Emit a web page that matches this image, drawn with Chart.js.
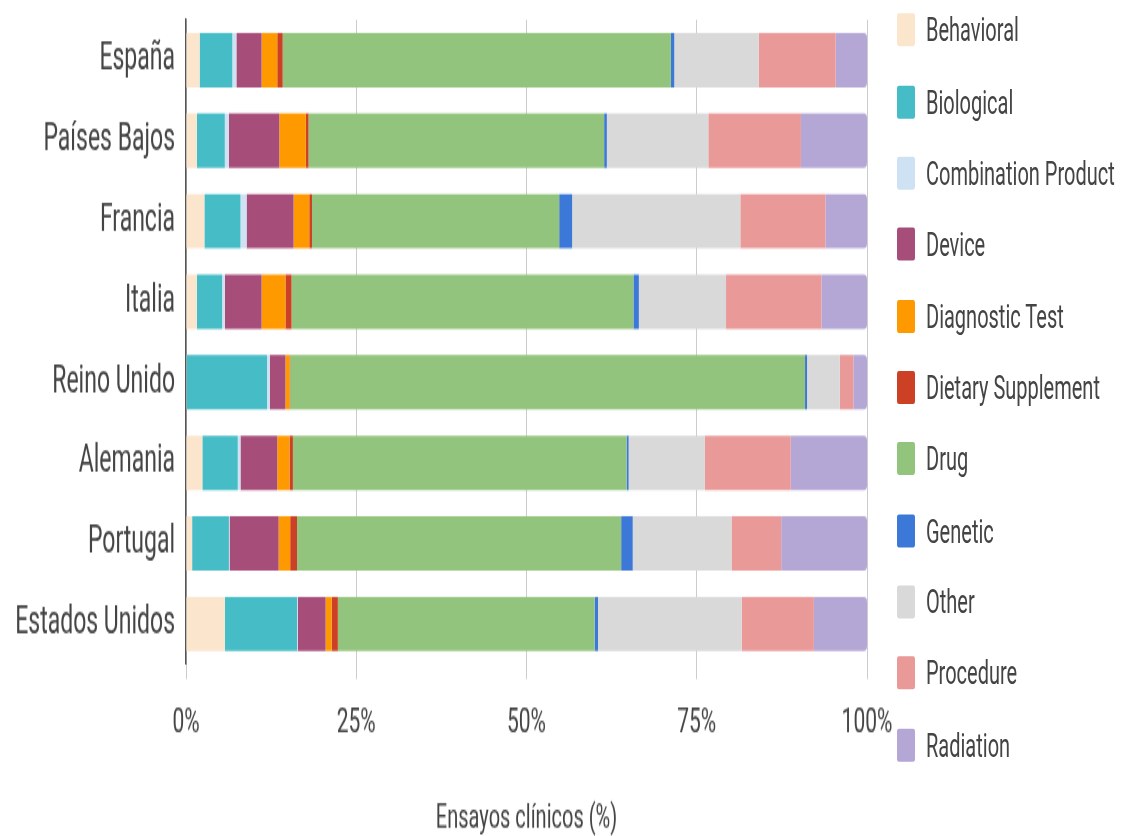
<!DOCTYPE html>
<html lang="es">
<head>
<meta charset="utf-8">
<title>Ensayos clínicos por tipo de intervención</title>
<script src="https://cdn.jsdelivr.net/npm/chart.js@4.4.1/dist/chart.umd.min.js"></script>
<style>
    html {
        overflow: hidden;
    }
    body {
        margin: 0;
        padding: 0;
        width: 1122px;
        height: 836px;
        background: #fff;
    }
    /* the whole chart is drawn on a short canvas and stretched vertically */
    .chart-wrap {
        position: relative;
        width: 1122px;
        height: 507px;
        transform: scaleY(1.649);
        transform-origin: 0 0;
    }
    .legend {
        position: absolute;
        left: 897px;
        top: 0;
        margin: 0;
        padding: 0;
        list-style: none;
        font-family: Roboto, sans-serif;
        font-size: 20px;
        color: #444;
    }
    .legend li {
        position: absolute;
        left: 0;
        height: 20px;
        display: flex;
        align-items: center;
        white-space: nowrap;
    }
    .legend .swatch {
        width: 18px;
        height: 20px;
        border-radius: 2px;
        margin-right: 11px;
        flex: none;
    }
</style>
</head>
<body>
<div class="chart-wrap">
    <canvas id="trialsChart"></canvas>
    <ul class="legend" id="trialsLegend"></ul>
</div>
<script>
// Countries (rows) and share of trials per intervention type, in %
const countries = ['España', 'Países Bajos', 'Francia', 'Italia', 'Reino Unido', 'Alemania', 'Portugal', 'Estados Unidos'];

const behavioral  = [2.0, 1.6, 2.7, 1.6, 0.1, 2.4, 0.9, 5.7];
const biological  = [4.8, 4.1, 5.3, 3.7, 11.8, 5.2, 5.4, 10.6];
const combination = [0.6, 0.6, 0.9, 0.4, 0.4, 0.4, 0.1, 0.1];
const device      = [3.7, 7.4, 6.9, 5.4, 2.3, 5.4, 7.2, 4.1];
const diagnostic  = [2.3, 3.9, 2.3, 3.5, 0.6, 1.8, 1.7, 0.9];
const dietary     = [0.8, 0.4, 0.4, 0.9, 0.1, 0.5, 1.0, 0.9];
const drug        = [57.0, 43.4, 36.3, 50.2, 75.6, 49.0, 47.6, 37.7];
const genetic     = [0.5, 0.4, 1.9, 0.8, 0.3, 0.3, 1.7, 0.5];
const other       = [12.4, 14.9, 24.7, 12.8, 4.8, 11.2, 14.5, 21.1];
const procedure   = [11.3, 13.6, 12.5, 14.0, 2.0, 12.6, 7.3, 10.6];
const radiation   = [4.6, 9.7, 6.1, 6.7, 2.0, 11.2, 12.6, 7.8];

const xTicks = [0, 25, 50, 75, 100];

const series = [
    { label: 'Behavioral', data: behavioral, color: '#fce5cd' },
    { label: 'Biological', data: biological, color: '#46bdc6' },
    { label: 'Combination Product', data: combination, color: '#cfe2f3' },
    { label: 'Device', data: device, color: '#a64d79' },
    { label: 'Diagnostic Test', data: diagnostic, color: '#ff9900' },
    { label: 'Dietary Supplement', data: dietary, color: '#cc4125' },
    { label: 'Drug', data: drug, color: '#93c47d' },
    { label: 'Genetic', data: genetic, color: '#3c78d8' },
    { label: 'Other', data: other, color: '#d9d9d9' },
    { label: 'Procedure', data: procedure, color: '#ea9999' },
    { label: 'Radiation', data: radiation, color: '#b4a7d6' }
];

const textColor = '#444';

// Builds the legend list on the right from the chart datasets
const htmlLegend = {
    id: 'htmlLegend',
    afterUpdate(chart) {
        const list = document.getElementById('trialsLegend');
        list.innerHTML = '';
        chart.data.datasets.forEach((ds, i) => {
            const li = document.createElement('li');
            li.style.top = (8.2 + i * 43.33) + 'px';
            const box = document.createElement('span');
            box.className = 'swatch';
            box.style.background = ds.backgroundColor;
            const text = document.createElement('span');
            text.textContent = ds.label;
            li.appendChild(box);
            li.appendChild(text);
            list.appendChild(li);
        });
    }
};

function initTrialsChart() {
    const ctx = document.getElementById('trialsChart').getContext('2d');

    const data = {
        labels: countries,
        datasets: series.map(s => ({
            label: s.label,
            data: s.data,
            backgroundColor: s.color,
            borderWidth: 0,
            borderRadius: 3,
            borderSkipped: 'start',
            barPercentage: 0.675,
            categoryPercentage: 1
        }))
    };

    const config = {
        type: 'bar',
        data: data,
        options: {
            indexAxis: 'y',
            responsive: true,
            maintainAspectRatio: false,
            animation: false,
            layout: {
                padding: { top: 12, right: 255, bottom: -2, left: 0 }
            },
            plugins: {
                legend: { display: false },
                tooltip: { enabled: false }
            },
            scales: {
                x: {
                    stacked: true,
                    min: 0,
                    max: 100,
                    afterBuildTicks: scale => {
                        scale.ticks = xTicks.map(v => ({ value: v }));
                    },
                    grid: {
                        color: '#cccccc',
                        lineWidth: 1,
                        drawTicks: true,
                        tickLength: 9
                    },
                    border: { display: false },
                    ticks: {
                        color: textColor,
                        padding: 14,
                        font: { family: 'Roboto', size: 21 },
                        callback: value => value + '%'
                    },
                    title: {
                        display: true,
                        text: 'Ensayos clínicos (%)',
                        color: textColor,
                        font: { family: 'Roboto', size: 20 },
                        padding: { top: 20, bottom: 0 }
                    }
                },
                y: {
                    stacked: true,
                    afterFit: scale => {
                        scale.width = 186;
                        scale.paddingTop = 0;
                        scale.paddingBottom = 0;
                    },
                    grid: { display: false, drawTicks: false },
                    border: { display: true, color: '#555', width: 1.5 },
                    ticks: {
                        color: textColor,
                        padding: 11,
                        font: { family: 'Roboto', size: 23 }
                    }
                }
            }
        },
        plugins: [htmlLegend]
    };

    new Chart(ctx, config);
}

document.addEventListener('DOMContentLoaded', () => {
    initTrialsChart();
});
</script>
</body>
</html>
